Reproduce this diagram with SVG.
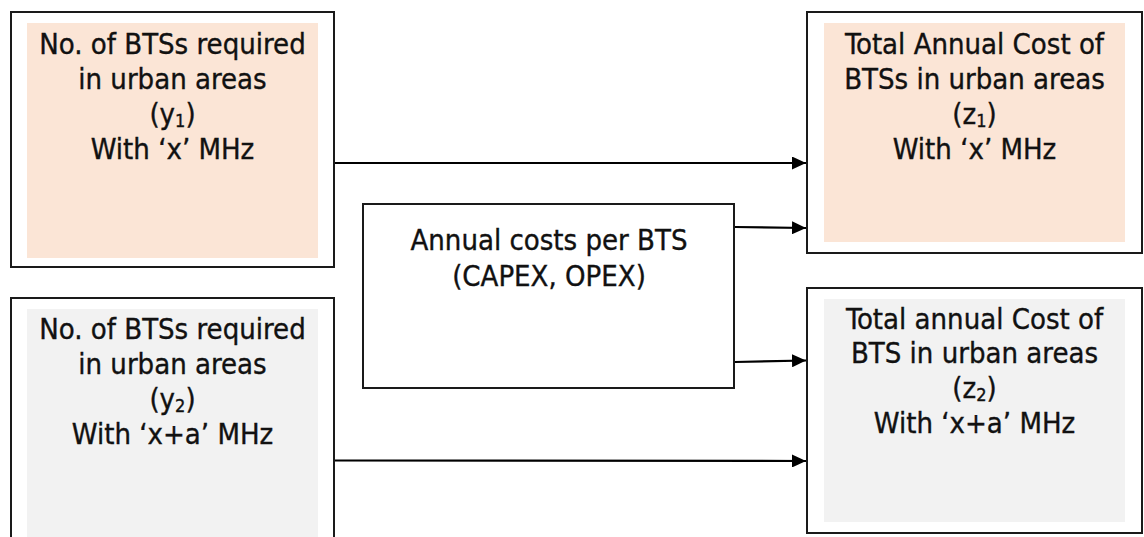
<svg xmlns="http://www.w3.org/2000/svg" width="1144" height="537" viewBox="0 0 1144 537">
  <defs>
    <marker id="arrow" viewBox="0 0 14 13" refX="14" refY="6.5" markerWidth="14" markerHeight="13" markerUnits="userSpaceOnUse" orient="auto">
      <path d="M0,0 L14,6.5 L0,13 Z" fill="#000"/>
    </marker>
  </defs>
  <style>
    .frame { fill: #fff; stroke: #1a1a1a; stroke-width: 2; }
    .peach { fill: #fbe5d6; }
    .grey { fill: #f2f2f2; }
    .label { font-family: "DejaVu Sans Condensed", "DejaVu Sans", sans-serif; font-size: 29px; fill: #111; stroke: #111; stroke-width: 0.35; text-anchor: middle; }
    .sub { font-size: 18px; }
    .link { fill: none; stroke: #000; stroke-width: 2.2; marker-end: url(#arrow); }
  </style>
  <rect width="1144" height="537" fill="#fff"/>

  <!-- input: BTS count for x MHz -->
  <g id="bts-count-x">
    <rect class="frame" x="11" y="12" width="323" height="255"/>
    <rect class="peach" x="27" y="23" width="291" height="235"/>
    <text class="label" x="172.5" y="54">No. of BTSs required</text>
    <text class="label" x="172.5" y="89">in urban areas</text>
    <text class="label" x="172.5" y="124">(y<tspan class="sub" dy="3">1</tspan><tspan dy="-3">)</tspan></text>
    <text class="label" x="172.5" y="159">With ‘x’ MHz</text>
  </g>

  <!-- input: BTS count for x+a MHz -->
  <g id="bts-count-xa">
    <rect class="frame" x="11" y="298" width="323" height="250"/>
    <rect class="grey" x="27" y="309" width="291" height="228"/>
    <text class="label" x="172.5" y="339">No. of BTSs required</text>
    <text class="label" x="172.5" y="374">in urban areas</text>
    <text class="label" x="172.5" y="409">(y<tspan class="sub" dy="3">2</tspan><tspan dy="-3">)</tspan></text>
    <text class="label" x="172.5" y="444">With ‘x+a’ MHz</text>
  </g>

  <!-- annual cost per BTS -->
  <g id="cost-per-bts">
    <rect class="frame" x="363" y="204" width="371" height="184"/>
    <text class="label" x="549" y="250">Annual costs per BTS</text>
    <text class="label" x="549" y="286">(CAPEX, OPEX)</text>
  </g>

  <!-- output: total cost for x MHz -->
  <g id="total-cost-x">
    <rect class="frame" x="807" y="12" width="335" height="241"/>
    <rect class="peach" x="824" y="23" width="301" height="219"/>
    <text class="label" x="974.5" y="54">Total Annual Cost of</text>
    <text class="label" x="974.5" y="89">BTSs in urban areas</text>
    <text class="label" x="974.5" y="124">(z<tspan class="sub" dy="3">1</tspan><tspan dy="-3">)</tspan></text>
    <text class="label" x="974.5" y="159">With ‘x’ MHz</text>
  </g>

  <!-- output: total cost for x+a MHz -->
  <g id="total-cost-xa">
    <rect class="frame" x="807" y="288" width="335" height="245"/>
    <rect class="grey" x="824" y="299" width="301" height="223"/>
    <text class="label" x="974.5" y="329">Total annual Cost of</text>
    <text class="label" x="974.5" y="363">BTS in urban areas</text>
    <text class="label" x="974.5" y="398">(z<tspan class="sub" dy="3">2</tspan><tspan dy="-3">)</tspan></text>
    <text class="label" x="974.5" y="433">With ‘x+a’ MHz</text>
  </g>

  <g id="connectors">
    <line class="link" x1="335" y1="163" x2="806" y2="163"/>
    <line class="link" x1="735" y1="227" x2="806" y2="228"/>
    <line class="link" x1="735" y1="362" x2="806" y2="360.5"/>
    <line class="link" x1="335" y1="460.5" x2="806" y2="461"/>
  </g>
</svg>
